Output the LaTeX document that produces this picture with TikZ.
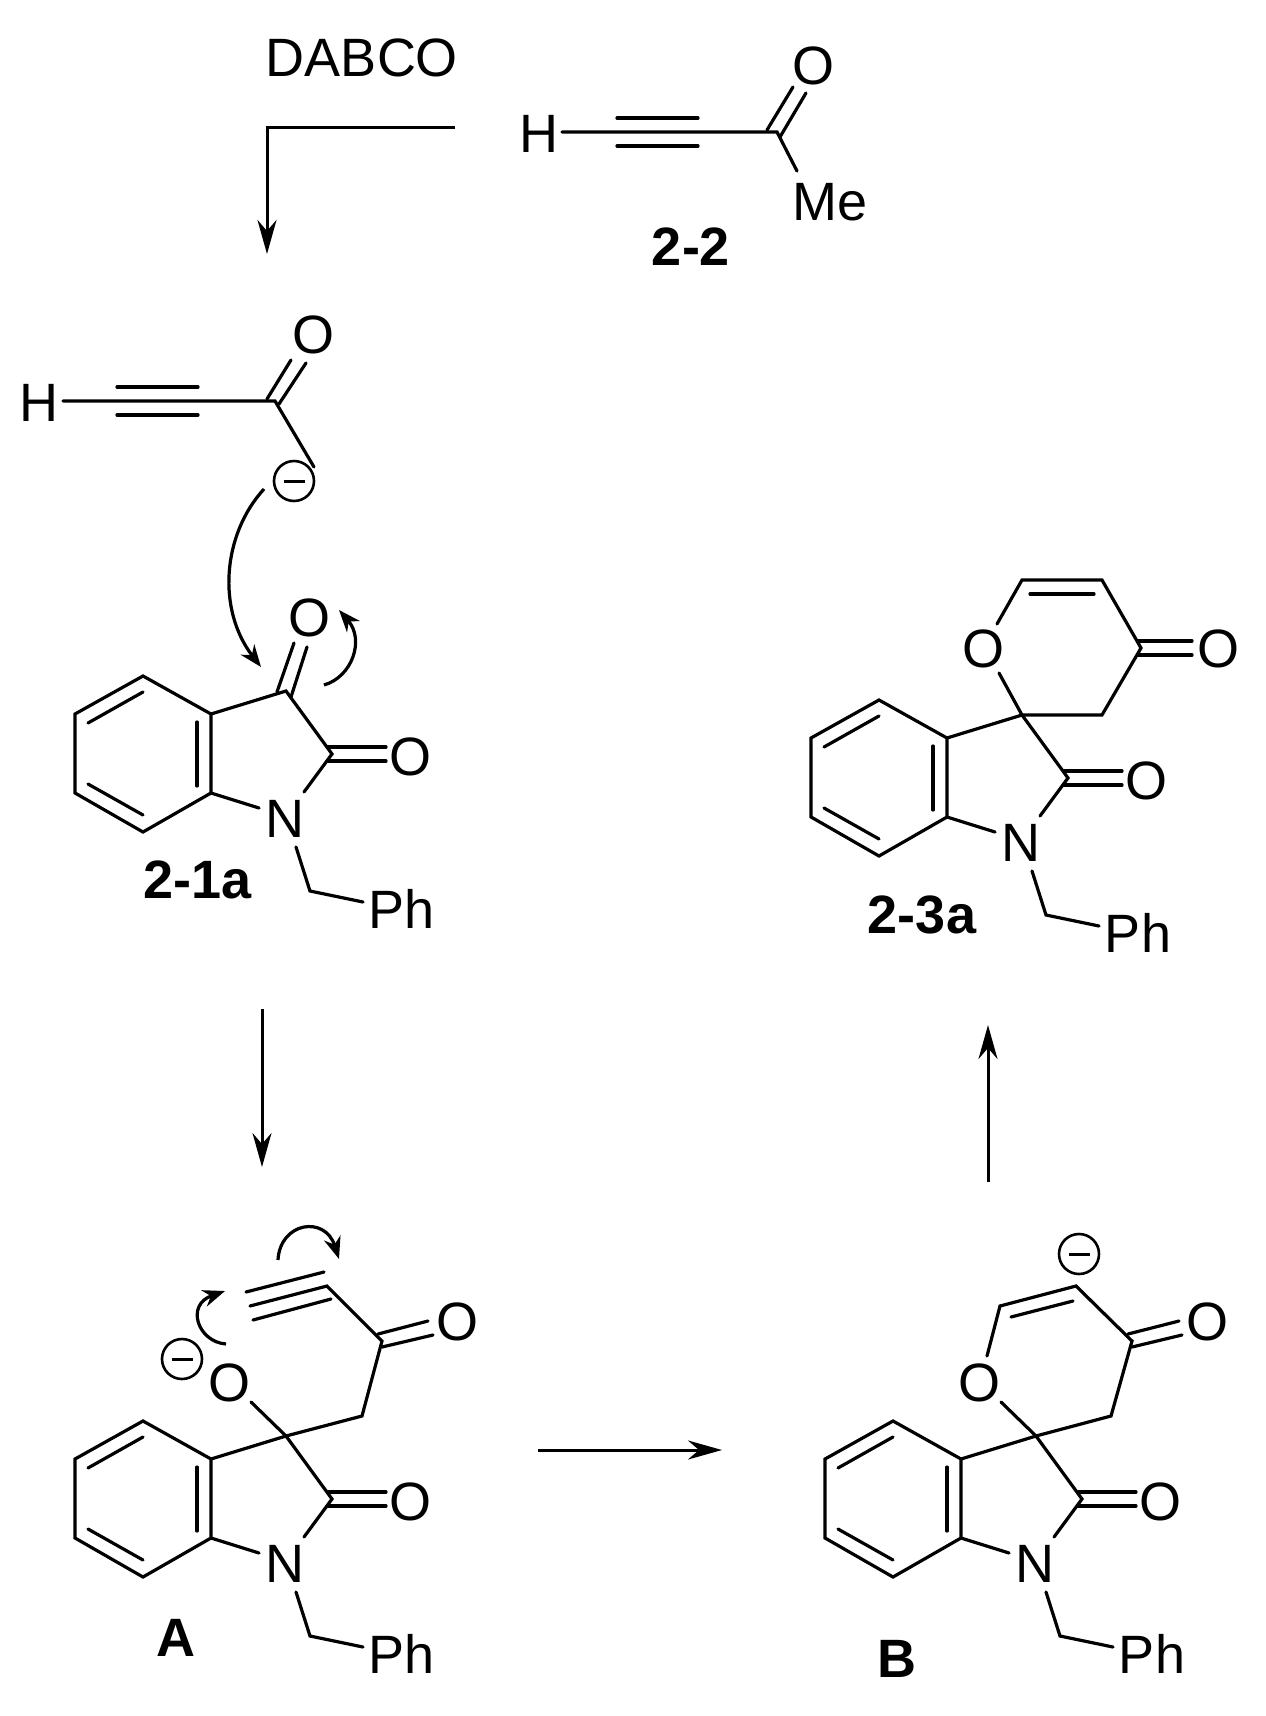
\documentclass[tikz,border=0pt]{standalone}
\usepackage{fontspec}
\setmainfont{Liberation Sans}
\usetikzlibrary{arrows.meta}
\tikzset{
  bond/.style={line width=3.2pt,line cap=round,line join=miter,black},
  atom/.style={inner sep=0pt,outer sep=0pt,font=\fontsize{54}{54}\selectfont},
  tag/.style={inner sep=0pt,outer sep=0pt,font=\fontsize{54}{54}\selectfont\bfseries},
  chargering/.style={circle,draw,line width=2.6pt,minimum size=40pt,inner sep=0pt,outer sep=0pt},
  mainarrow/.style={line width=3pt,-{Stealth[length=34pt,width=19pt,inset=11pt]}},
  pusharrow/.style={line width=3.2pt,-{Stealth[length=22pt,width=17pt,inset=7pt]}},
}
% minus charge: ring plus bar
\newcommand{\minuscharge}[3]{%
  \node[chargering] (#1) at (#2,#3) {};
  \draw[line width=3pt] ([xshift=-10.5pt]#1.center) -- ([xshift=10.5pt]#1.center);
}
% N-benzyl oxindole skeleton, shared by all four molecules
\newcommand{\oxindole}{%
  \coordinate (b1) at (143,676); \coordinate (b2) at (211,714);
  \coordinate (b3) at (211,793); \coordinate (b4) at (143,832);
  \coordinate (b5) at (75,793);  \coordinate (b6) at (75,714);
  \coordinate (c3) at (286,691); \coordinate (c2) at (332,754);
  \coordinate (ch2) at (310,891);
  \node[atom] (N) at (285,819) {N};
  \node[atom] (O2) at (410,757) {O};
  \node[atom] (Ph) at (402,909) {Ph};
  \draw[bond] (b1)--(b2)--(b3)--(b4)--(b5)--(b6)--cycle;
  \draw[bond] (88,723)--(143,692);
  \draw[bond] (197,722)--(197,786);
  \draw[bond] (88,784)--(143,815);
  \draw[bond] (b2)--(c3)--(c2)--(304,792);
  \draw[bond] (b3)--(259,808);
  \draw[bond] (296,847)--(ch2)--(363,902);
  \draw[bond] (328,747)--(386,747);
  \draw[bond] (328,761)--(386,761);
}
\begin{document}
\begin{tikzpicture}[x=1pt,y=-1pt]
\useasboundingbox (0,0) rectangle (1266,1716);

% ---- catalyst step
\node[atom] (dabco) at (362,58) {DABCO};
\coordinate (dabS) at (455,127);
\coordinate (dabK) at (267,127);
\coordinate (dabE) at (267,254);
\draw[mainarrow,line join=miter] (dabS) -- (dabK) -- (dabE);

% ---- 2-2
\node[atom] (h22) at (539,134) {H};
\node[atom] (o22) at (813,66) {O};
\node[atom] (me22) at (830,202) {Me};
\node[tag] (t22) at (691,247) {2-2};
\coordinate (c22) at (777,132);
\draw[bond] (562,132) -- (c22) -- (797,171);
\draw[bond] (617,118)--(698,118);
\draw[bond] (617,146)--(698,146);
\draw[bond] (767,130)--(793,87);
\draw[bond] (780,137)--(806,93);

% ---- zwitterion fragment
\node[atom] (h1) at (39,403) {H};
\node[atom] (o1) at (313,335) {O};
\coordinate (c1) at (275,401);
\draw[bond] (63,401) -- (c1) -- (314,467);
\draw[bond] (117,387)--(198,387);
\draw[bond] (117,415)--(198,415);
\draw[bond] (267,399)--(291,360);
\draw[bond] (279,404)--(306,363);
\minuscharge{m1}{294}{481}

% ---- 2-1a
\begin{scope}[name prefix=p1-]
  \oxindole
\end{scope}
\node[atom] (o3) at (309,618) {O};
\node[tag] (t21a) at (198,880) {2-1a};
\draw[bond] (277,692)--(294,643);
\draw[bond] (291,697)--(307,647);
\coordinate (pa1) at (264,489);
\coordinate (pa2) at (261,667);
\draw[pusharrow] (pa1) .. controls (222,535) and (217,610) .. (pa2);
\coordinate (pb1) at (324,685);
\coordinate (pb2) at (339,610);
\draw[pusharrow] (pb1) .. controls (352,677) and (365,640) .. (pb2);

% ---- 2-3a
\begin{scope}[shift={(736,24)},name prefix=p3-]
  \oxindole
\end{scope}
\node[tag] (t23a) at (922,915) {2-3a};
\node[atom] (o3r) at (983,649) {O};
\node[atom] (o3k) at (1218,649) {O};
\coordinate (r1) at (1022,580);
\coordinate (r2) at (1102,580);
\coordinate (r3) at (1141,648);
\coordinate (r4) at (1102,715);
\draw[bond] (997,624) -- (r1) -- (r2) -- (r3) -- (r4) -- (p3-c3) -- (999,673);
\draw[bond] (1030,594)--(1094,594);
\draw[bond] (1138,641)--(1192,641);
\draw[bond] (1138,655)--(1192,655);

% ---- cycle arrows
\coordinate (dnS) at (262,1009);
\coordinate (dnE) at (262,1167);
\draw[mainarrow] (dnS) -- (dnE);
\coordinate (upS) at (988,1182);
\coordinate (upE) at (988,1025);
\draw[mainarrow] (upS) -- (upE);
\coordinate (rtS) at (538,1450);
\coordinate (rtE) at (722,1450);
\draw[mainarrow] (rtS) -- (rtE);

% ---- A
\begin{scope}[shift={(0,745)},name prefix=pA-]
  \oxindole
\end{scope}
\node[tag] (tA) at (176,1638) {A};
\node[atom] (oA1) at (229,1383) {O};
\coordinate (aca) at (362,1416);
\coordinate (aco) at (382,1341);
\coordinate (yc) at (327,1286);
\draw[bond] (251,1402) -- (pA-c3);
\draw[bond] (pA-c3) -- (aca) -- (aco) -- (yc) -- (250,1306);
\draw[bond] (246,1292)--(324,1272);
\draw[bond] (253,1320)--(331,1299);
\draw[bond] (378,1334)--(428,1321);
\draw[bond] (382,1347)--(433,1335);
\node[atom] (oA) at (457,1322) {O};
\minuscharge{m2}{182}{1359}
\coordinate (qa1) at (278,1260);
\coordinate (qa2) at (339,1259);
\draw[pusharrow] (qa1) .. controls (280,1222) and (325,1215) .. (qa2);
\coordinate (qb1) at (226,1344);
\coordinate (qb2) at (225,1291);
\draw[pusharrow] (qb1) .. controls (198,1342) and (185,1305) .. (qb2);

% ---- B
\begin{scope}[shift={(750,745)},name prefix=pB-]
  \oxindole
\end{scope}
\node[tag] (tB) at (897,1659) {B};
\node[atom] (oB1) at (979,1383) {O};
\coordinate (bca) at (1111,1416);
\coordinate (bco) at (1132,1341);
\coordinate (bc1) at (1076,1286);
\coordinate (bc2) at (1000,1306);
\draw[bond] (1001,1402) -- (pB-c3);
\draw[bond] (pB-c3) -- (bca) -- (bco) -- (bc1) -- (bc2) -- (987,1356);
\draw[bond] (1011,1317)--(1073,1301);
\draw[bond] (1128,1334)--(1179,1321);
\draw[bond] (1132,1347)--(1182,1335);
\node[atom] (oB) at (1207,1322) {O};
\minuscharge{m3}{1079}{1254}
\end{tikzpicture}
\end{document}
